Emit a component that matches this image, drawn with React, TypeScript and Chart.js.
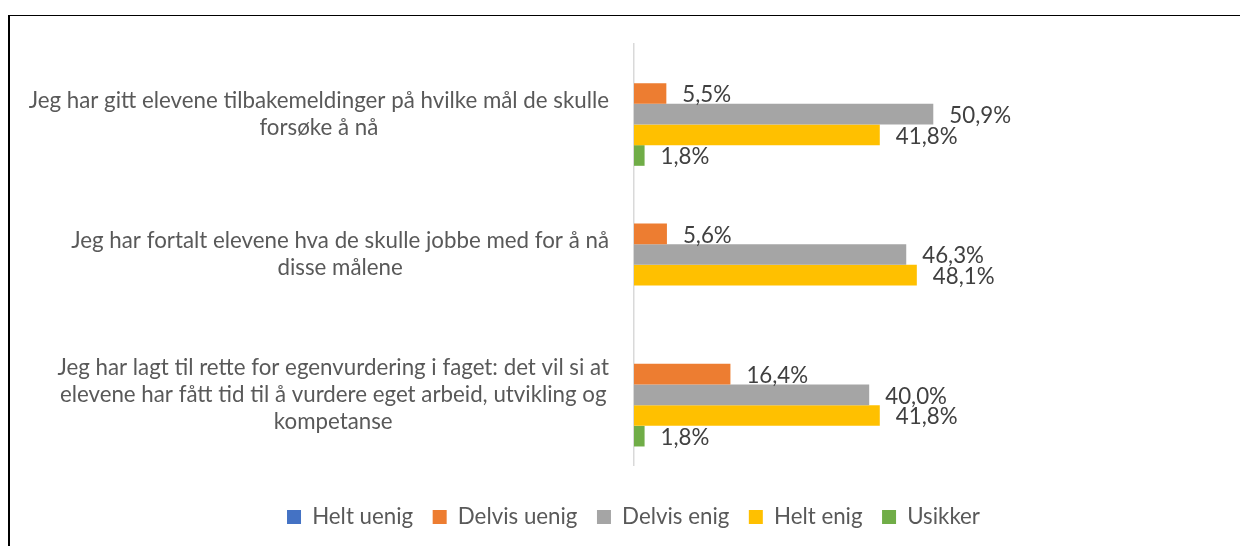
import React, { useEffect, useRef } from "react";
import { Chart, registerables } from "chart.js";

Chart.register(...registerables);

const categories: string[][] = [
  ["Jeg har gitt elevene tilbakemeldinger på hvilke mål de skulle", "forsøke å nå"],
  ["Jeg har fortalt elevene hva de skulle jobbe med for å nå", "disse målene"],
  [
    "Jeg har lagt til rette for egenvurdering i faget: det vil si at",
    "elevene har fått tid til å vurdere eget arbeid, utvikling og",
    "kompetanse",
  ],
];

const seriesNames = ["Helt uenig", "Delvis uenig", "Delvis enig", "Helt enig", "Usikker"];
const heltUenig = [0, 0, 0];
const delvisUenig = [5.5, 5.6, 16.4];
const delvisEnig = [50.9, 46.3, 40.0];
const heltEnig = [41.8, 48.1, 41.8];
const usikker = [1.8, null, 1.8];
const seriesColors = ["#4472C4", "#ED7D31", "#A5A5A5", "#FFC000", "#70AD47"];

const FONT_FAMILY = "Lato";
const FONT_SIZE = 22.3;
const LINE_H = 27;
const LABEL_GAP = 25;
const W = 1241;
const H = 570;

const fmt = (v: number) => v.toFixed(1).replace(".", ",") + "%";

// value labels at the end of each bar
const valueLabels = {
  id: "valueLabels",
  afterDatasetsDraw(chart: any) {
    const ctx = chart.ctx;
    ctx.save();
    ctx.font = `${FONT_SIZE}px ${FONT_FAMILY}`;
    ctx.fillStyle = "#404040";
    ctx.textBaseline = "middle";
    ctx.textAlign = "left";
    chart.data.datasets.forEach((ds: any, i: number) => {
      const meta = chart.getDatasetMeta(i);
      meta.data.forEach((el: any, j: number) => {
        const v = ds.data[j];
        if (v == null || v === 0) return;
        ctx.fillText(fmt(v), el.x + 16, el.y + 1.5);
      });
    });
    ctx.restore();
  },
};

// category labels: each block right-aligned to the axis, lines centred within the block
const categoryLabels = {
  id: "categoryLabels",
  afterDraw(chart: any) {
    const ctx = chart.ctx;
    const yScale = chart.scales.y;
    ctx.save();
    ctx.font = `${FONT_SIZE}px ${FONT_FAMILY}`;
    ctx.fillStyle = "#595959";
    ctx.textBaseline = "middle";
    ctx.textAlign = "center";
    (chart.data.labels as string[][]).forEach((lines, i) => {
      const cy = yScale.getPixelForTick(i);
      let bw = 0;
      lines.forEach((l) => (bw = Math.max(bw, ctx.measureText(l).width)));
      const cx = yScale.right - LABEL_GAP - bw / 2;
      const n = lines.length;
      lines.forEach((l, k) => ctx.fillText(l, cx, cy + (k - (n - 1) / 2) * LINE_H));
    });
    ctx.restore();
  },
};

export default function App() {
  const ref = useRef<HTMLCanvasElement | null>(null);

  useEffect(() => {
    const canvas = ref.current;
    if (!canvas) return;
    const axisX = 634;

    const allSeries = [heltUenig, delvisUenig, delvisEnig, heltEnig, usikker];
    const chart = new Chart(canvas, {
      type: "bar",
      data: {
        labels: categories,
        datasets: allSeries.map((d, i) => ({
          label: seriesNames[i],
          data: d,
          backgroundColor: seriesColors[i],
          borderWidth: 0,
          categoryPercentage: 0.736,
          barPercentage: 1,
        })),
      },
      options: {
        indexAxis: "y",
        responsive: false,
        animation: false,
        layout: { padding: { top: 44, left: 45, right: 19, bottom: 31.85 } },
        scales: {
          x: {
            min: 0,
            max: 100,
            display: true,
            ticks: { display: false },
            grid: { display: false, drawTicks: false },
            border: { display: false },
            afterFit: (s: any) => {
              s.height = 21.35;
            },
          },
          y: {
            grid: { display: false, drawTicks: false },
            border: { display: true, color: "#D9D9D9", width: 1.5 },
            ticks: { display: false },
            afterFit: (s: any) => {
              s.width = axisX - 45;
              s.paddingTop = 0;
              s.paddingBottom = 0;
            },
          },
        },
        plugins: {
          tooltip: { enabled: false },
          legend: {
            position: "bottom",
            labels: {
              boxWidth: 14,
              boxHeight: 14,
              padding: 19.5,
              color: "#595959",
              font: { family: FONT_FAMILY, size: FONT_SIZE },
            },
          },
        },
      },
      plugins: [valueLabels, categoryLabels],
    } as any);
    return () => chart.destroy();
  }, []);

  return (
    <div
      style={{
        position: "absolute",
        left: 0,
        top: 0,
        width: W,
        height: 546,
        overflow: "hidden",
        background: "#fff",
      }}
    >
      <canvas ref={ref} width={W} height={H} style={{ position: "absolute", left: 0, top: 0 }} />
      <div
        style={{
          position: "absolute",
          left: 8,
          top: 15,
          width: 1232,
          height: 600,
          borderTop: "1px solid #000",
          borderLeft: "2px solid #000",
          boxSizing: "border-box",
          pointerEvents: "none",
        }}
      />
    </div>
  );
}
